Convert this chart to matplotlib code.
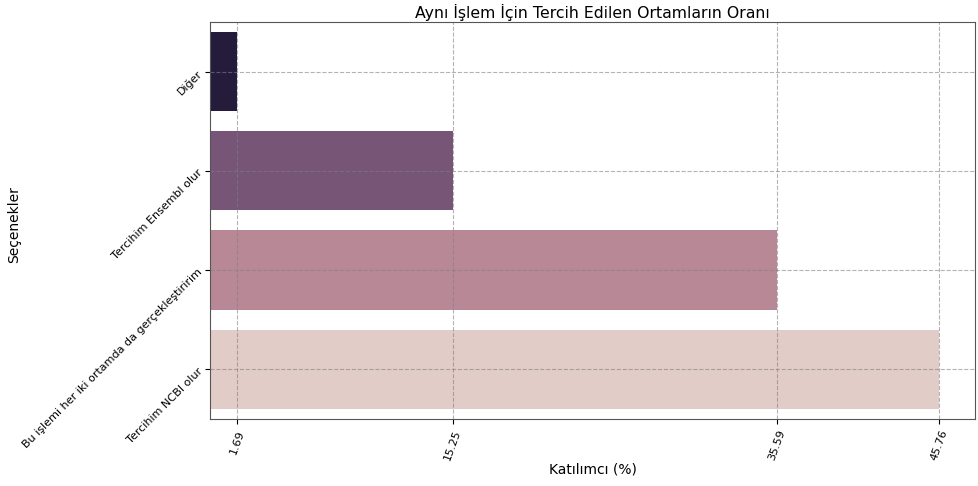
import matplotlib
matplotlib.use("Agg")
import matplotlib.pyplot as plt

categories = ["Diğer", "Tercihim Ensembl olur",
              "Bu işlemi her iki ortamda da gerçekleştiririm", "Tercihim NCBI olur"]
values = [1.69, 15.25, 35.59, 45.76]
colors = ["#251c3b", "#765577", "#b88897", "#e2ccc7"]

fig, ax = plt.subplots(figsize=(9.79, 4.86), dpi=100)
fig.subplots_adjust(left=0.2145, right=0.996, top=0.955, bottom=0.138)

ax.barh(categories, values, color=colors, height=0.8)
ax.set_ylim(3.5, -0.5)

ax.set_xticks(values)
ax.set_xticklabels([f"{v:.2f}" for v in values], rotation=70, fontsize=8)
ax.set_yticks(range(len(categories)))
ax.set_yticklabels(categories, rotation=45, fontsize=8, ha="right", rotation_mode="anchor")

ax.grid(True, linestyle="--", color="gray", alpha=0.6, linewidth=0.8)
for s in ax.spines.values():
    s.set_color("#555555")

ax.set_title("Aynı İşlem İçin Tercih Edilen Ortamların Oranı", fontsize=11.3, pad=3)
ax.set_xlabel("Katılımcı (%)", fontsize=10, labelpad=0)
ax.set_ylabel("Seçenekler", fontsize=10)
ax.yaxis.set_label_coords(-0.247, 0.49)

plt.savefig("out.png")
